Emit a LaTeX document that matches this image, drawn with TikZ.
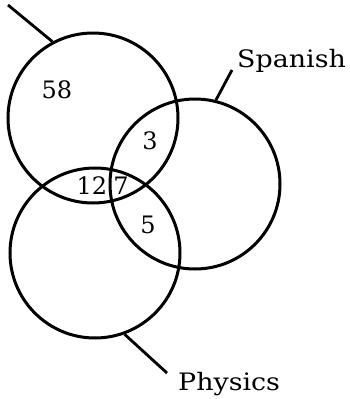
\documentclass[tikz,border=0pt]{standalone}
\usepackage{fontspec}
\setmainfont{DejaVu Serif}
\begin{document}
\begin{tikzpicture}[x=1pt,y=-1pt,
  setc/.style={circle,draw,line width=3pt,minimum size=170pt,inner sep=0pt},
  lead/.style={line width=2.8pt},
  num/.style={font=\fontsize{24}{24}\selectfont,inner sep=0pt},
  lab/.style={font=\fontsize{24}{24}\selectfont,inner sep=0pt,anchor=base west}]
\useasboundingbox (0,0) rectangle (350,399);
\node[setc] (L) at (93,118) {};
\node[setc] (S) at (195,184) {};
\node[setc] (P) at (95,253) {};
\coordinate (le) at (8,5);
\coordinate (se) at (232,70);
\coordinate (pe) at (167,373);
\draw[lead] (L.118) -- (le);
\draw[lead] (S.76) -- (se);
\draw[lead] (P.-70) -- (pe);
\node[lab] (sl) at (237,67) {\scalebox{1.12}[1]{Spanish}};
\node[lab] (pl) at (178,390) {\scalebox{1.12}[1]{Physics}};
\node[num] (n58) at (57,90) {58};
\node[num] (n3) at (150,141) {3};
\node[num] (n12) at (92,186) {12};
\node[num] (n7) at (121,186) {7};
\node[num] (n5) at (148,225) {5};
\end{tikzpicture}
\end{document}
